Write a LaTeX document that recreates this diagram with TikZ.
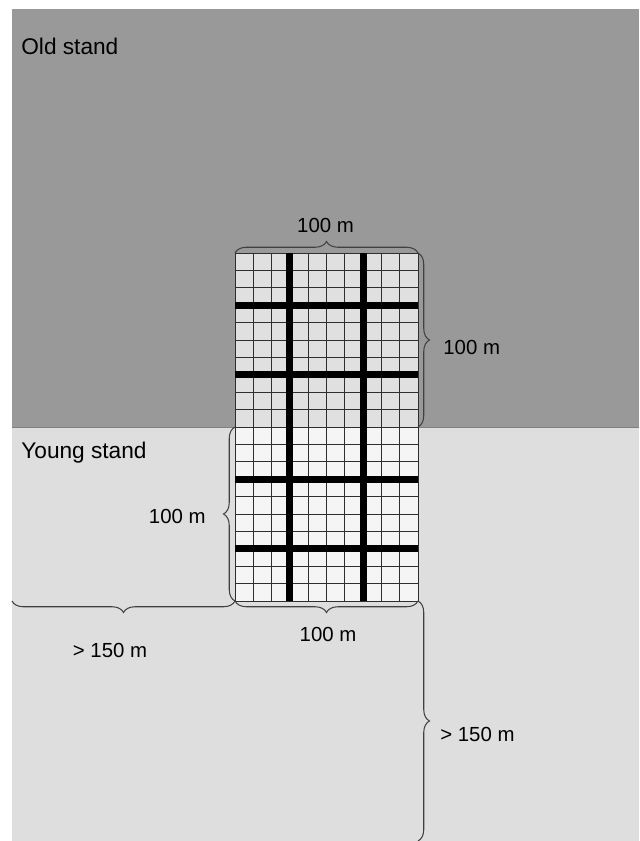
\documentclass[tikz,border=0pt]{standalone}
\usepackage{fontspec}
\setmainfont{Liberation Sans}
\usetikzlibrary{decorations.pathreplacing}
\definecolor{oldstand}{gray}{0.60}
\definecolor{youngstand}{gray}{0.87}

\begin{document}
\begin{tikzpicture}[line cap=butt,
  bracedim/.style={decorate,decoration={brace,amplitude=0.23cm},draw=black!75,line width=0.6pt},
  dimlabel/.style={font=\fontsize{11.6}{14}\selectfont,inner sep=0pt},
  standlabel/.style={font=\fontsize{12.9}{15}\selectfont,inner sep=0pt,anchor=base west},
  gridline/.style={black!82,line width=0.55pt},
  trail/.style={black,line width=3.9pt}]
\useasboundingbox (0,0) rectangle (12.78,16.82);
% the two stands
\fill[oldstand] (0.24,8.28) rectangle (12.78,16.64);
\fill[youngstand] (0.24,0) rectangle (12.78,8.28);
\draw[black!50,line width=0.4pt] (0.24,8.28) -- (12.78,8.28);
\node[standlabel] (old) at (0.42,15.72) {Old stand};
\node[standlabel] (young) at (0.42,7.64) {Young stand};
% corners of the plot
\coordinate (gSW) at (4.70,4.80);
\coordinate (gSE) at (8.36,4.80);
\coordinate (gNW) at (4.70,11.76);
\coordinate (gNE) at (8.36,11.76);
\coordinate (gW) at (4.70,8.28);
\coordinate (gE) at (8.36,8.28);
\coordinate (edgeW) at (0.24,4.80);
\coordinate (edgeS) at (8.36,0);
% plot grid, 10 x 20 cells
\fill[white,fill opacity=0.7] (gSW) rectangle (gNE);
\foreach \i in {0,...,10}
  \draw[gridline] (4.70+\i*0.366,4.80) -- (4.70+\i*0.366,11.76);
\foreach \j in {0,...,20}
  \draw[gridline] (4.70,4.80+\j*0.348) -- (8.36,4.80+\j*0.348);
\foreach \i in {3,7}
  \draw[trail] (4.70+\i*0.366,4.80) -- (4.70+\i*0.366,11.76);
\foreach \j in {3,7,13,17}
  \draw[trail] (4.70,4.80+\j*0.348) -- (8.36,4.80+\j*0.348);
% dimensions
\draw[bracedim] (gNW) -- (gNE);
\draw[bracedim] (gNE) -- (gE);
\draw[bracedim] (gSW) -- (gW);
\draw[bracedim] (gSE) -- (gSW);
\draw[bracedim] (gSW) -- (edgeW);
\draw[bracedim] (gSE) -- (edgeS);
\node[dimlabel] (dimtop) at (6.51,12.32) {100 m};
\node[dimlabel,anchor=west] (dimright) at (8.86,9.88) {100 m};
\node[dimlabel,anchor=east] (dimleft) at (4.12,6.49) {100 m};
\node[dimlabel] (dimbottom) at (6.56,4.14) {100 m};
\node[dimlabel] (farleft) at (2.20,3.81) {> 150 m};
\node[dimlabel,anchor=west] (farbottom) at (8.80,2.13) {> 150 m};
\end{tikzpicture}
\end{document}
